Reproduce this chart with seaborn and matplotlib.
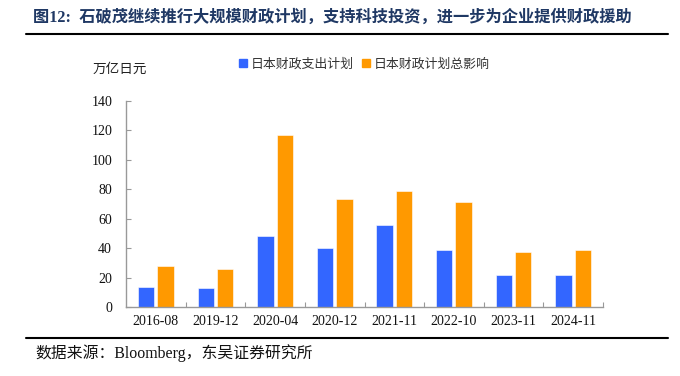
import matplotlib
matplotlib.use("Agg")
import matplotlib.pyplot as plt
import seaborn as sns
import pandas as pd
from matplotlib.lines import Line2D
from matplotlib.ticker import FixedLocator

sns.set_theme(style="white")
plt.rcParams['font.family'] = ['Liberation Serif', 'Noto Sans CJK SC']

categories = ["2016-08", "2019-12", "2020-04", "2020-12", "2021-11", "2022-10", "2023-11", "2024-11"]
spending = [13.3, 12.9, 48.2, 39.8, 55.7, 38.7, 21.7, 21.7]
total_impact = [28.0, 25.8, 117.0, 73.5, 78.7, 71.3, 37.3, 38.7]
series_names = ["日本财政支出计划", "日本财政计划总影响"]
yticks = [0, 20, 40, 60, 80, 100, 120, 140]
colors = ["#3366FF", "#FF9900"]

df = pd.DataFrame({
    "cat": categories * 2,
    "val": spending + total_impact,
    "series": [series_names[0]] * len(categories) + [series_names[1]] * len(categories),
})

fig = plt.figure(figsize=(6.8, 3.76), dpi=100)
ax = fig.add_axes([126/680, 69/376, 477/680, 206/376])

sns.barplot(data=df, x="cat", y="val", hue="series", palette=colors, ax=ax,
            width=0.65, gap=0.15, legend=False, saturation=1,
            edgecolor="white", linewidth=0.4)

ax.set_xlim(-0.5, len(categories) - 0.5)
ax.set_ylim(0, 140)
ax.set_yticks(yticks)
ax.set_yticklabels([str(v) for v in yticks])
ax.set_xlabel("")
ax.set_ylabel("")

for s in ["top", "right"]:
    ax.spines[s].set_visible(False)
for s in ["left", "bottom"]:
    ax.spines[s].set_color("#999999")
    ax.spines[s].set_linewidth(1.0)

ax.tick_params(axis="y", direction="in", length=3.5, width=0.8, color="#999999",
               labelsize=10, labelcolor="#111111", pad=10, left=True)
ax.tick_params(axis="x", which="major", length=0, labelsize=10, labelcolor="#111111", pad=6)
ax.xaxis.set_minor_locator(FixedLocator([i + 0.5 for i in range(len(categories))]))
ax.tick_params(axis="x", which="minor", direction="in", length=3.5, width=0.8,
               color="#999999", bottom=True)

# unit label
fig.text(93/680, 1 - 69/376, "万亿日元", fontsize=9.8, color="#222222",
         va="center", ha="left", family=["Noto Sans CJK SC"])

# legend
handles = [Line2D([0], [0], marker="s", linestyle="", markersize=5.5,
                  markerfacecolor=c, markeredgecolor=c) for c in colors]
fig.legend(handles, series_names, loc="center left", bbox_to_anchor=(227/680, 1 - 64/376),
           ncol=2, frameon=False, handlelength=0.7, handletextpad=0.25,
           columnspacing=0.6, prop={"family": ["Noto Sans CJK SC"], "size": 9.3},
           labelcolor="#333333")

# title
fig.text(33/680, 1 - 18/376, "图12:  石破茂继续推行大规模财政计划，支持科技投资，进一步为企业提供财政援助",
         fontsize=11.7, fontweight="bold", color="#1F3864", va="center", ha="left",
         family=["Liberation Serif", "Noto Sans CJK SC"])
fig.add_artist(Line2D([26/680, 668/680], [1 - 34/376, 1 - 34/376], color="black", linewidth=1.5))

# source
fig.add_artist(Line2D([26/680, 668/680], [1 - 338/376, 1 - 338/376], color="black", linewidth=1.5))
fig.text(35/680, 1 - 353/376, "数据来源：Bloomberg，东吴证券研究所", fontsize=11.4,
         color="#111111", va="center", ha="left",
         family=["Liberation Serif", "Noto Sans CJK SC"])

fig.savefig("out.png", dpi=100)
